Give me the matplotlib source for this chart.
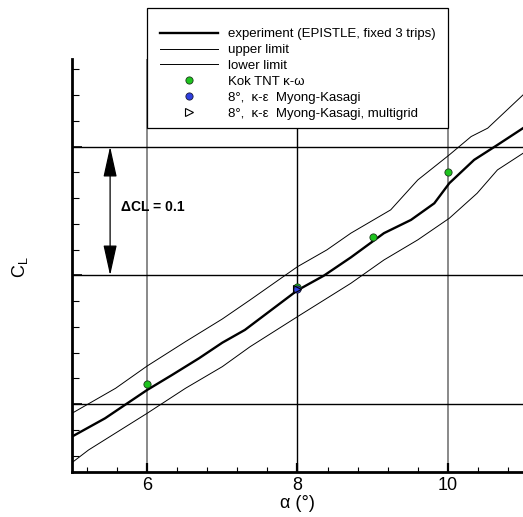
import numpy as np
import matplotlib
matplotlib.use('Agg')
import matplotlib.pyplot as plt
from matplotlib.patches import Rectangle
from matplotlib.lines import Line2D
import matplotlib.transforms as mtransforms

plt.rcParams['font.family'] = ['Liberation Sans', 'DejaVu Sans']

# ---------------- data ----------------
exp_alpha = [5.0, 5.44, 6.0, 6.33, 6.69, 7.0, 7.3, 8.0, 8.35, 8.71, 9.15, 9.51, 9.82, 10.02, 10.35, 10.66, 11.0]
exp_cl = [0.8749, 0.8891, 0.9111, 0.9227, 0.9357, 0.9478, 0.9577, 0.9885, 0.9998, 1.0140, 1.0328, 1.0431, 1.0560, 1.0716, 1.0897, 1.1013, 1.1143]

up_alpha = [5.0, 5.58, 6.0, 6.51, 7.0, 7.37, 8.0, 8.39, 8.71, 9.24, 9.6, 10.02, 10.31, 10.53, 11.0]
up_cl = [0.8930, 0.9124, 0.9297, 0.9486, 0.9662, 0.9810, 1.0068, 1.0198, 1.0328, 1.0509, 1.0741, 1.0936, 1.1078, 1.1143, 1.1401]

lo_alpha = [5.0, 5.22, 6.0, 6.51, 7.0, 7.37, 8.0, 8.71, 9.15, 9.6, 10.02, 10.39, 10.66, 11.0]
lo_cl = [0.8547, 0.8645, 0.8930, 0.9124, 0.9292, 0.9447, 0.9680, 0.9939, 1.0120, 1.0276, 1.0444, 1.0638, 1.0819, 1.0948]

kok_alpha = [6.0, 8.0, 9.0, 10.0]
kok_cl = [0.9155, 0.9908, 1.0301, 1.0801]

mk_alpha = [8.0]
mk_cl = [0.9893]

mg_alpha = [8.0]
mg_cl = [0.9893]

x_major = [6, 8, 10]
x_major_labels = ['6', '8', '10']
y_major = [0.9, 1.0, 1.1]

labels = ['experiment (EPISTLE, fixed 3 trips)', 'upper limit', 'lower limit',
          'Kok TNT κ-ω', '8°,  κ-ε  Myong-Kasagi', '8°,  κ-ε  Myong-Kasagi, multigrid']

# ---------------- figure ----------------
W, H = 523, 517
fig = plt.figure(figsize=(W / 100, H / 100), dpi=100)
ax = fig.add_axes([72 / W, 1 - 471.5 / H, 1 - 72 / W, (471.5 - 59) / H])
ax.set_xlim(5, 11)
ax.set_ylim(0.8478, 1.168)

for s in ['top', 'right']:
    ax.spines[s].set_visible(False)
for s in ['left', 'bottom']:
    ax.spines[s].set_linewidth(2.0)

# grid lines
for xv in x_major:
    ax.axvline(xv, color='black' if xv == 8 else '#808080', lw=1.0 if xv == 8 else 1.3, zorder=1)
for yv in y_major:
    ax.axhline(yv, color='black', lw=1.0, zorder=1)

# curves
l_exp, = ax.plot(exp_alpha, exp_cl, color='black', lw=1.7, zorder=3)
l_up, = ax.plot(up_alpha, up_cl, color='black', lw=0.7, zorder=3)
l_lo, = ax.plot(lo_alpha, lo_cl, color='black', lw=0.7, zorder=3)
p_kok, = ax.plot(kok_alpha, kok_cl, 'o', ms=5.2, mfc='#1ec41e', mec='#1a3a1a', mew=0.6, zorder=4)
p_mk, = ax.plot(mk_alpha, mk_cl, 'o', ms=5.2, mfc='#2f3fe0', mec='#1a1a3a', mew=0.6, zorder=5)
p_mg, = ax.plot(mg_alpha, mg_cl, '>', ms=5.5, mfc='none', mec='black', mew=0.8, zorder=6)

# ticks
ax.set_xticks(x_major)
ax.set_xticklabels(x_major_labels)
ax.set_xticks(np.arange(5.2, 11.0, 0.4), minor=True)
ax.set_yticks(y_major)
ax.set_yticklabels([])
ax.set_yticks(np.arange(0.86, 1.17, 0.02), minor=True)
ax.tick_params(axis='x', which='major', direction='in', length=6.5, width=1.6, labelsize=13, pad=4)
ax.tick_params(axis='x', which='minor', direction='in', length=3.6, width=0.8)
ax.tick_params(axis='y', which='major', direction='in', length=7, width=1.2)
ax.tick_params(axis='y', which='minor', direction='in', length=5, width=0.8)

ax.set_xlabel('α (°)', fontsize=13, labelpad=1)
fig.text(20 / W, 1 - 267 / H, r'$\mathregular{C_L}$', rotation=90, ha='center', va='center', fontsize=13)

# delta annotation
ax.annotate('', xy=(5.507, 1.1), xytext=(5.507, 1.0),
            arrowprops=dict(arrowstyle='<|-|>,head_length=1.9,head_width=0.42',
                            color='black', lw=0.9, shrinkA=0, shrinkB=0, mutation_scale=10))
ax.text(5.65, 1.053, 'ΔCL = 0.1', fontsize=10, fontweight='bold', ha='left', va='center')

# legend box
trans = mtransforms.blended_transform_factory(ax.transData, fig.transFigure)
rect = Rectangle((6, 1 - 128 / H), 4, (128 - 8) / H, transform=trans, facecolor='white',
                 edgecolor='black', lw=0.9, zorder=4)
fig.add_artist(rect)
leg = fig.legend([l_exp, l_up, l_lo, p_kok, p_mk, p_mg], labels,
                 loc='upper left', bbox_to_anchor=(160 / W, 1 - 28 / H),
                 frameon=False, fontsize=9.5, borderaxespad=0, borderpad=0,
                 handlelength=4.4, handletextpad=0.75, labelspacing=0.28, numpoints=1)
leg.set_zorder(5)

fig.savefig('out.png', dpi=100)
